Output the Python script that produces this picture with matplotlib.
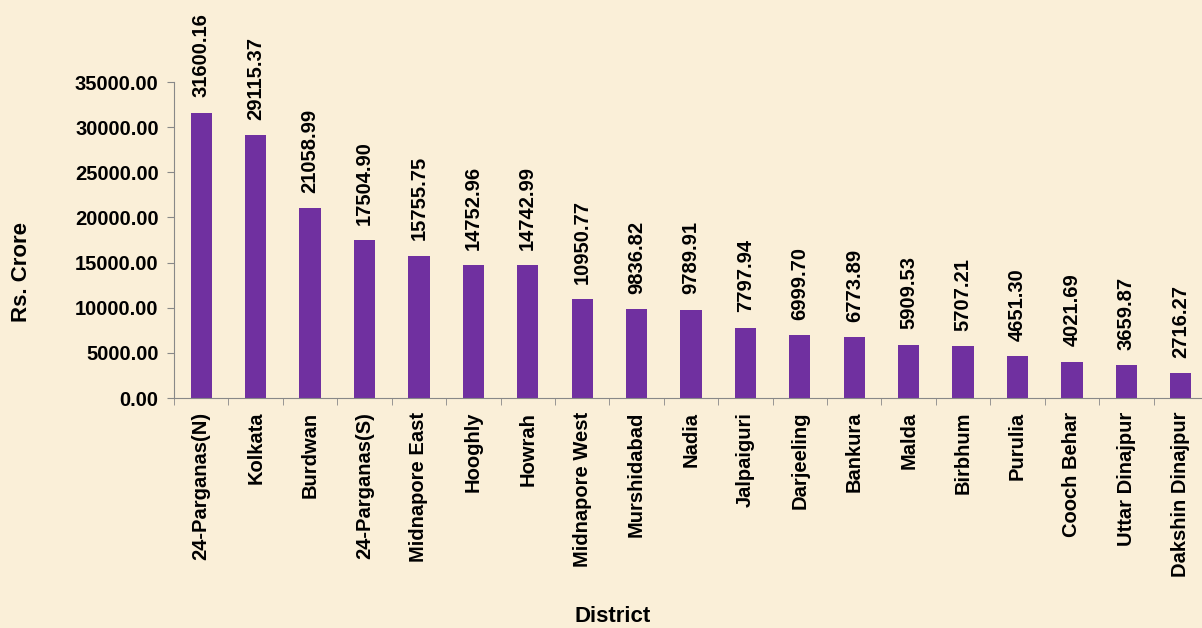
import matplotlib
matplotlib.use("Agg")
import matplotlib.pyplot as plt
import numpy as np

districts = ["24-Parganas(N)", "Kolkata", "Burdwan", "24-Parganas(S)", "Midnapore East",
             "Hooghly", "Howrah", "Midnapore West", "Murshidabad", "Nadia", "Jalpaiguri",
             "Darjeeling", "Bankura", "Malda", "Birbhum", "Purulia", "Cooch Behar",
             "Uttar Dinajpur", "Dakshin Dinajpur"]
values = [31600.16, 29115.37, 21058.99, 17504.90, 15755.75, 14752.96, 14742.99,
          10950.77, 9836.82, 9789.91, 7797.94, 6999.70, 6773.89, 5909.53, 5707.21,
          4651.30, 4021.69, 3659.87, 2716.27]
yticks = [0, 5000, 10000, 15000, 20000, 25000, 30000, 35000]

plt.rcParams['font.family'] = ['Liberation Sans', 'DejaVu Sans']
bg = "#FAEFD8"
fs = 14.5
fig = plt.figure(figsize=(12.02, 6.28), dpi=100, facecolor=bg)
ax = fig.add_axes([174/1202, (628-398)/628, (1208-174)/1202, (398-82)/628])
ax.set_facecolor(bg)
ax.patch.set_alpha(0)

x = np.arange(len(districts))
bars = ax.bar(x, values, width=0.39, color="#7030A0")
ax.set_xlim(-0.5, len(districts)-0.5)
ax.set_ylim(0, 35000)
ax.set_yticks(yticks)
ax.set_yticklabels([f"{v:.2f}" for v in yticks], fontsize=fs, fontweight='bold')
ax.set_xticks(x)
ax.set_xticklabels(districts, rotation=90, fontsize=fs, fontweight='bold')
ax.set_xticks(np.arange(len(districts)+1)-0.5, minor=True)
ax.tick_params(axis='x', which='major', length=0, pad=10)
ax.tick_params(axis='x', which='minor', length=5, color="#888888", direction='out')
ax.tick_params(axis='y', length=5, color="#888888", pad=6)
for s in ['top', 'right']:
    ax.spines[s].set_visible(False)
for s in ['left', 'bottom']:
    ax.spines[s].set_color("#888888")

for xi, v in zip(x, values):
    ax.annotate(f"{v:.2f}", (xi, v), xytext=(0, 11), textcoords='offset points',
                rotation=90, ha='center', va='bottom', fontsize=fs, fontweight='bold')

fig.text(22/1202, 1-272/628, "Rs. Crore", rotation=90, ha='center', va='center',
         fontsize=16, fontweight='bold')
fig.text(613/1202, 1-617/628, "District", ha='center', va='center',
         fontsize=16, fontweight='bold')

fig.savefig("out.png", dpi=100, facecolor=bg)
